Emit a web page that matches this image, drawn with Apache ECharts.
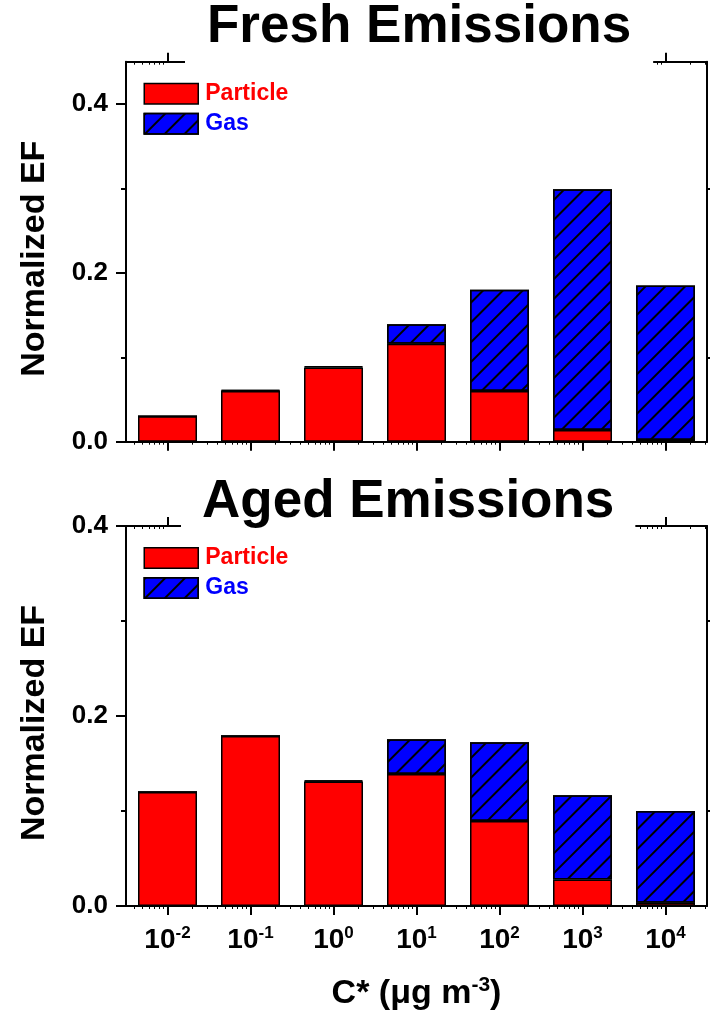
<!DOCTYPE html>
<html>
<head>
<meta charset="utf-8">
<script src="https://cdn.jsdelivr.net/npm/echarts@6/dist/echarts.min.js"></script>
<style>
  html, body { margin: 0; padding: 0; background: #fff; }
  #chart { width: 715px; height: 1015px; }
</style>
</head>
<body>
<div id="chart"></div>
<script>
// Volatility bins: exponent of C* (µg m-3)
const binExponents = ['-2', '-1', '0', '1', '2', '3', '4'];

// Normalized emission factors per bin
const freshParticle = [0.030, 0.060, 0.088, 0.116, 0.060, 0.014, 0.002];
const freshGas      = [0.000, 0.001, 0.0015, 0.023, 0.120, 0.285, 0.183];
const agedParticle  = [0.120, 0.179, 0.131, 0.139, 0.0895, 0.028, 0.0035];
const agedGas       = [0.000, 0.000, 0.0013, 0.0365, 0.083, 0.0885, 0.0965];

// Y axis ticks
const yTickLabels = [0, 0.2, 0.4];
const yMinorTicks = [0.1, 0.3];

// Log-decade minor tick positions (2..9 within each decade), in exponent units
const minorLogTicks = [];
for (let n = -3; n <= 4; n++) {
  for (let k = 2; k <= 9; k++) {
    const v = n + Math.log10(k);
    if (v > -2.5 && v < 4.5) minorLogTicks.push(v);
  }
}

const FONT = '"Liberation Sans", Arial, Helvetica, sans-serif';
const BLACK = '#000';
const RED = '#ff0000';
const BLUE = '#0000ff';

const hatch = {
  symbol: 'rect',
  symbolSize: 1,
  color: BLACK,
  dashArrayX: [1, 0],
  dashArrayY: [1.5, 12],
  rotation: -Math.PI / 4
};

const grids = [], xAxes = [], yAxes = [], series = [], legends = [], titles = [];

function addPanel(idx, cfg) {
  grids.push({
    left: 126, top: cfg.top, width: 581, height: 380,
    outerBoundsMode: 'none', containLabel: false
  });
  const xb = xAxes.length;
  const yb = yAxes.length;
  const lineStyle = { color: BLACK, width: 2 };

  // bottom category axis: bins, major ticks, labels
  xAxes.push({
    type: 'category', gridIndex: idx, position: 'bottom',
    data: binExponents, boundaryGap: true,
    axisLine: { show: true, onZero: false, lineStyle },
    axisTick: { show: true, alignWithLabel: true, interval: 0, length: 9, lineStyle },
    axisLabel: cfg.showXLabels ? {
      show: true, interval: 0, margin: 19,
      formatter: v => '{m|10}{s|' + v + '}',
      rich: {
        m: { fontSize: 28, fontWeight: 'bold', color: BLACK, fontFamily: FONT, lineHeight: 30 },
        s: { fontSize: 17, fontWeight: 'bold', color: BLACK, fontFamily: FONT, lineHeight: 17, verticalAlign: 'top' }
      }
    } : { show: false },
    splitLine: { show: false },
    name: cfg.showXLabels ? 'C* (μg m{s|-3})' : '',
    nameLocation: 'middle',
    nameGap: 69,
    nameTextStyle: {
      fontSize: 34, fontWeight: 'bold', color: BLACK, fontFamily: FONT, lineHeight: 38,
      rich: {
        s: { fontSize: 21, fontWeight: 'bold', color: BLACK, fontFamily: FONT, lineHeight: 21, verticalAlign: 'top' }
      }
    }
  });
  // bottom log minor ticks
  xAxes.push({
    type: 'value', gridIndex: idx, position: 'bottom', min: -2.5, max: 4.5,
    axisLine: { show: false, onZero: false },
    axisTick: { show: true, customValues: minorLogTicks, length: 3, lineStyle: { color: BLACK, width: 1 } },
    axisLabel: { show: false }, splitLine: { show: false }
  });
  // top frame axis with major ticks
  xAxes.push({
    type: 'category', gridIndex: idx, position: 'top',
    data: binExponents, boundaryGap: true,
    axisLine: { show: true, onZero: false, lineStyle },
    axisTick: { show: true, alignWithLabel: true, interval: 0, length: 9, lineStyle },
    axisLabel: { show: false }, splitLine: { show: false }
  });
  // top log minor ticks (inward)
  xAxes.push({
    type: 'value', gridIndex: idx, position: 'top', min: -2.5, max: 4.5,
    axisLine: { show: false, onZero: false },
    axisTick: { show: true, inside: true, customValues: minorLogTicks, length: 3, lineStyle: { color: BLACK, width: 1 } },
    axisLabel: { show: false }, splitLine: { show: false }
  });

  // left axis with labels
  yAxes.push({
    type: 'value', gridIndex: idx, position: 'left', min: 0, max: cfg.yMax,
    axisLine: { show: true, onZero: false, lineStyle },
    axisTick: { show: true, customValues: yTickLabels, length: 10, lineStyle },
    axisLabel: {
      show: true, customValues: yTickLabels, margin: 18,
      formatter: v => v.toFixed(1),
      fontSize: 26, fontWeight: 'bold', color: BLACK, fontFamily: FONT
    },
    splitLine: { show: false },
    name: 'Normalized EF',
    nameLocation: 'middle',
    nameGap: 74,
    nameTextStyle: { fontSize: 34, fontWeight: 'bold', color: BLACK, fontFamily: FONT, padding: [0, 14, 0, 0] }
  });
  // left minor ticks
  yAxes.push({
    type: 'value', gridIndex: idx, position: 'left', min: 0, max: cfg.yMax,
    axisLine: { show: false, onZero: false },
    axisTick: { show: true, customValues: yMinorTicks, length: 5, lineStyle },
    axisLabel: { show: false }, splitLine: { show: false }
  });
  // right frame axis
  yAxes.push({
    type: 'value', gridIndex: idx, position: 'right', min: 0, max: cfg.yMax,
    axisLine: { show: true, onZero: false, lineStyle },
    axisTick: { show: true, customValues: yMinorTicks, length: 3, lineStyle },
    axisLabel: { show: false }, splitLine: { show: false }
  });

  const stack = 'ef' + idx;
  series.push({
    type: 'bar', name: 'Particle', xAxisIndex: xb, yAxisIndex: yb, stack,
    data: cfg.particle, barWidth: 59,
    itemStyle: { color: RED, borderColor: BLACK, borderWidth: 1.5 }
  });
  series.push({
    type: 'bar', name: 'Gas', xAxisIndex: xb, yAxisIndex: yb, stack,
    data: cfg.gas, barWidth: 59,
    itemStyle: { color: BLUE, borderColor: BLACK, borderWidth: 1.5, decal: hatch }
  });

  legends.push({
    orient: 'vertical', left: 143.5, top: cfg.legendTop, padding: 0,
    itemGap: 7, itemWidth: 54, itemHeight: 20.5, icon: 'rect',
    selectedMode: false,
    itemStyle: { borderColor: BLACK, borderWidth: 1.5 },
    textStyle: { fontSize: 23, fontWeight: 'bold', fontFamily: FONT, padding: [0, 0, 0, 2] },
    data: [
      { name: 'Particle', textStyle: { color: RED } },
      { name: 'Gas', textStyle: { color: BLUE } }
    ]
  });

  titles.push({
    text: cfg.title, left: cfg.titleLeft, top: cfg.titleTop,
    padding: cfg.titlePadding, backgroundColor: '#fff',
    textStyle: { fontSize: 53, fontWeight: 'bold', color: BLACK, fontFamily: FONT }
  });
}

addPanel(0, {
  top: 61.7, yMax: 0.45, showXLabels: false,
  particle: freshParticle, gas: freshGas,
  legendTop: 82.2,
  title: 'Fresh Emissions', titleLeft: 185, titleTop: 0, titlePadding: [1, 22, 12, 22]
});
addPanel(1, {
  top: 526, yMax: 0.4, showXLabels: true,
  particle: agedParticle, gas: agedGas,
  legendTop: 546.5,
  title: 'Aged Emissions', titleLeft: 181, titleTop: 472, titlePadding: [4, 21, 3, 21]
});

const chart = echarts.init(document.getElementById('chart'), null, { renderer: 'canvas' });
chart.setOption({
  animation: false,
  backgroundColor: '#fff',
  textStyle: { fontFamily: FONT },
  title: titles,
  legend: legends,
  grid: grids,
  xAxis: xAxes,
  yAxis: yAxes,
  series: series
});
</script>
</body>
</html>
